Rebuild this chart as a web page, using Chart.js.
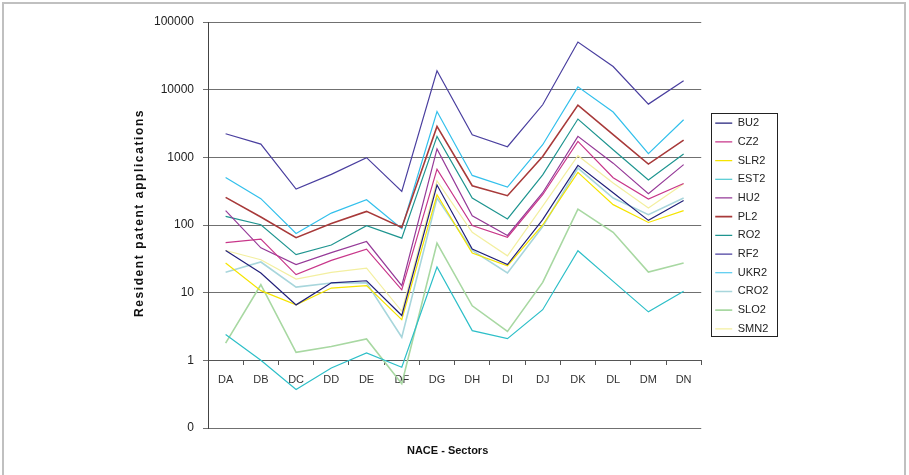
<!DOCTYPE html>
<html>
<head>
<meta charset="utf-8">
<script src="https://cdn.jsdelivr.net/npm/chart.js@4.4.1/dist/chart.umd.min.js"></script>
<style>
  html, body { margin: 0; padding: 0; background: #fff; }
  #wrap { position: relative; width: 909px; height: 475px; overflow: hidden; }
  #frame { position: absolute; left: 2px; top: 2px; right: 3px; height: 500px; border: 2px solid #c0c0c0; pointer-events: none; }
</style>
</head>
<body>
<div id="wrap">
  <canvas id="myChart" width="909" height="475"></canvas>
  <div id="frame"></div>
</div>
<script>
// sectors and y ticks
const sectors = ['DA', 'DB', 'DC', 'DD', 'DE', 'DF', 'DG', 'DH', 'DI', 'DJ', 'DK', 'DL', 'DM', 'DN'];
const yTicks = [0.1, 1, 10, 100, 1000, 10000, 100000];
const xTitle = 'NACE - Sectors';
const yTitle = 'Resident patent applications';

// resident patent applications per country
const bu2  = [42, 19.5, 6.6, 14, 15, 4.6, 390, 44, 26, 120, 760, 300, 117, 230];
const cz2  = [55, 62, 18.5, 30, 44, 11, 670, 98, 66, 280, 1720, 500, 242, 410];
const slr2 = [27.5, 10.7, 6.6, 11.7, 12.7, 4.0, 280, 38.6, 25, 100, 600, 200, 109, 163];
const est2 = [2.4, 1.0, 0.37, 0.77, 1.29, 0.79, 24, 2.75, 2.09, 5.6, 41.7, 14.7, 5.2, 10.5];
const hu2  = [163, 46, 26, 39, 57, 12.7, 1330, 137, 70, 300, 2040, 820, 290, 780];
const pl2  = [256, 131, 65, 105, 159, 92, 2860, 380, 271, 1030, 5920, 2160, 796, 1800];
const ro2  = [134, 101, 36.4, 50.7, 97.7, 64, 2040, 250, 123, 550, 3680, 1295, 462, 1120];
const rf2  = [2230, 1570, 340, 560, 990, 313, 19000, 2160, 1435, 5980, 50500, 22000, 6120, 13500];
const ukr2 = [505, 245, 75, 150, 236, 88, 4760, 540, 364, 1535, 11000, 4670, 1130, 3590];
const cro2 = [20, 28.4, 12.1, 13.9, 14, 2.2, 250, 42, 19.5, 95, 695, 250, 142, 250];
const slo2 = [1.8, 13.1, 1.31, 1.6, 2.07, 0.45, 54, 6.4, 2.68, 14.2, 172, 78, 20.2, 27.4];
const smn2 = [42, 30.7, 15.9, 20, 23, 5.3, 450, 78, 35, 190, 1056, 417, 178, 407];

const font = '"Liberation Sans", Arial, sans-serif';

function series(label, data, color, width) {
    return {
        label: label,
        data: data,
        borderColor: color,
        backgroundColor: color,
        borderWidth: width,
        pointRadius: 0,
        pointHoverRadius: 0,
        pointStyle: 'line',
        tension: 0,
        fill: false
    };
}

// draws both axis titles (the y one is letter spaced like the original)
const axisTitles = {
    id: 'axisTitles',
    afterDraw(chart) {
        const {ctx, chartArea} = chart;
        ctx.save();
        ctx.fillStyle = '#111';
        ctx.textAlign = 'center';
        ctx.textBaseline = 'middle';
        ctx.font = 'bold 11px ' + font;
        ctx.fillText(xTitle, (chartArea.left + chartArea.right) / 2 - 7, chartArea.bottom + 23);
        ctx.translate(chartArea.left - 68, (chartArea.top + chartArea.bottom) / 2 - 12);
        ctx.rotate(-Math.PI / 2);
        ctx.font = 'bold 12px ' + font;
        ctx.letterSpacing = '1.6px';
        ctx.fillText(yTitle, 0, 0);
        ctx.restore();
    }
};

// moves the legend a bit right and puts a frame round it
const legendFrame = {
    id: 'legendFrame',
    afterLayout(chart) {
        const lg = chart.legend;
        const pad = lg.options.labels.padding;
        const dx = chart.chartArea.right + 14 - (lg.left + pad);
        lg.left += dx;
        lg.right += dx;
        lg.top += 1;
        lg.bottom += 1;
    },
    afterDraw(chart) {
        const boxes = chart.legend.legendHitBoxes;
        if (!boxes || !boxes.length) return;
        const first = boxes[0];
        const last = boxes[boxes.length - 1];
        const x = Math.round(first.left - 4.5) + 0.5;
        const y = Math.round(first.top - 5) + 0.5;
        const ctx = chart.ctx;
        ctx.save();
        ctx.strokeStyle = '#222';
        ctx.lineWidth = 1;
        ctx.strokeRect(x, y, 66, Math.round(last.top + last.height + 2.5 - y));
        ctx.restore();
    }
};

const ctx = document.getElementById('myChart').getContext('2d');
new Chart(ctx, {
    type: 'line',
    data: {
        labels: sectors,
        datasets: [
            series('BU2', bu2, '#22207A', 1.2),
            series('CZ2', cz2, '#C8368A', 1.2),
            series('SLR2', slr2, '#F5E400', 1.2),
            series('EST2', est2, '#2DBFC8', 1.2),
            series('HU2', hu2, '#953A98', 1.2),
            series('PL2', pl2, '#A83A3A', 1.6),
            series('RO2', ro2, '#1F9590', 1.2),
            series('RF2', rf2, '#4A3F9F', 1.2),
            series('UKR2', ukr2, '#33C0EC', 1.2),
            series('CRO2', cro2, '#A8D6DC', 1.6),
            series('SLO2', slo2, '#A8D8A2', 1.6),
            series('SMN2', smn2, '#F3EFA0', 1.2)
        ]
    },
    options: {
        responsive: false,
        animation: false,
        events: [],
        layout: {
            padding: {left: 0, top: 22, right: 137, bottom: 47}
        },
        plugins: {
            title: {display: false},
            tooltip: {enabled: false},
            legend: {
                position: 'right',
                align: 'center',
                labels: {
                    usePointStyle: true,
                    pointStyleWidth: 17,
                    padding: 7.7,
                    color: '#222',
                    font: {family: font, size: 11}
                }
            }
        },
        scales: {
            x: {
                type: 'category',
                position: {y: 1},
                offset: true,
                grid: {
                    display: true,
                    offset: true,
                    drawOnChartArea: false,
                    drawTicks: true,
                    tickLength: 4,
                    color: '#555'
                },
                border: {display: true, color: '#555', width: 1},
                ticks: {
                    color: '#333',
                    padding: 9,
                    maxRotation: 0,
                    autoSkip: false,
                    font: {family: font, size: 11}
                }
            },
            y: {
                type: 'logarithmic',
                min: 0.1,
                max: 100000,
                afterBuildTicks(axis) {
                    axis.ticks = yTicks.map(v => ({value: v}));
                },
                afterFit(axis) {
                    axis.width = 208;
                },
                grid: {
                    color: '#707070',
                    lineWidth: 1,
                    drawTicks: true,
                    tickLength: 5
                },
                border: {display: true, color: '#444', width: 1},
                ticks: {
                    autoSkip: false,
                    color: '#222',
                    padding: 9,
                    font: {family: font, size: 12},
                    callback: (v) => v < 1 ? '0' : String(v)
                }
            }
        }
    },
    plugins: [axisTitles, legendFrame]
});
</script>
</body>
</html>
